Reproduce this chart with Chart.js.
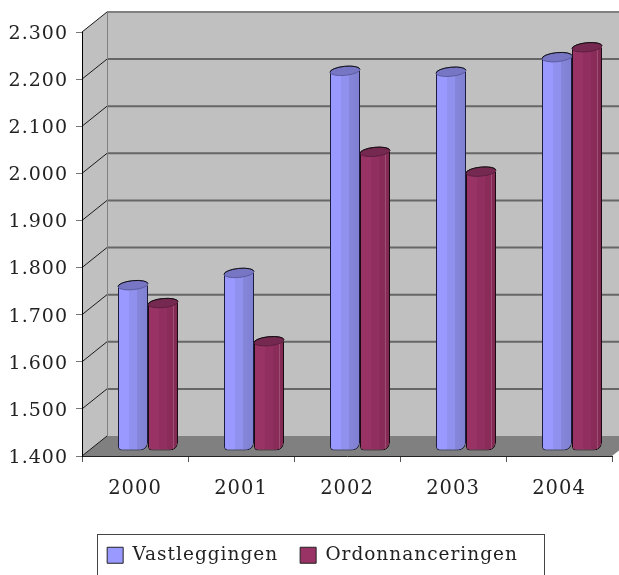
<!DOCTYPE html>
<html>
<head>
<meta charset="utf-8">
<title>Vastleggingen en ordonnanceringen</title>
<script src="https://cdn.jsdelivr.net/npm/chart.js@4/dist/chart.umd.js"></script>
<style>
  html, body { margin: 0; padding: 0; background: #fff; }
  canvas { display: block; }
</style>
</head>
<body>
<canvas id="chart" width="619" height="575"></canvas>
<script>
const years = ['2000', '2001', '2002', '2003', '2004'];
const vastleggingen = [1752, 1778, 2207, 2205, 2236];
const ordonnanceringen = [1714, 1633, 2035, 1993, 2257];
const yTickLabels = ['1.400', '1.500', '1.600', '1.700', '1.800', '1.900', '2.000', '2.100', '2.200', '2.300'];

const SERIF = '"DejaVu Serif", serif';
// pseudo 3D: depth of the box and how far the bars stand inside it
const depthX = 25, depthY = -20;
const barShiftX = 13, barShiftY = -5;

function gradientFor(side, stops) {
    return function(ctx) {
        const c = ctx.chart;
        if (!c.chartArea || ctx.dataIndex === undefined) return stops[0][1];
        const centre = c.scales.x.getPixelForValue(ctx.dataIndex);
        const x0 = side === 0 ? centre - 30 : centre;
        const g = c.ctx.createLinearGradient(x0, 0, x0 + 30, 0);
        stops.forEach(s => g.addColorStop(s[0], s[1]));
        return g;
    };
}

const blueStops = [[0, '#9999ff'], [0.35, '#9999ff'], [0.37, '#9090ee'], [0.62, '#9090ee'], [0.64, '#8585da'], [1, '#8080d2']];
const maroonStops = [[0, '#993366'], [0.35, '#993366'], [0.37, '#922f61'], [0.62, '#922f61'], [0.64, '#8a2c5a'], [0.82, '#8a2c5a'], [0.84, '#a8607f'], [0.87, '#862a56'], [1, '#7e2750']];
const capColors = ['#7676c4', '#752850'];
const capEdges = ['#5c5ca0', '#5e1f40'];
const swatchColors = ['#9999ff', '#993366'];

const box3d = {
    id: 'box3d',
    beforeLayout(chart) { chart.ctx.letterSpacing = '1px'; },
    beforeDraw(chart) {
        const c = chart.ctx, a = chart.chartArea, y = chart.scales.y;
        c.letterSpacing = '1px';
        c.save();
        // back wall and left wall
        c.fillStyle = '#c0c0c0';
        c.fillRect(a.left + depthX, a.top + depthY, a.right - a.left, a.bottom - a.top);
        c.beginPath();
        c.moveTo(a.left, a.top);
        c.lineTo(a.left + depthX, a.top + depthY);
        c.lineTo(a.left + depthX, a.bottom + depthY);
        c.lineTo(a.left, a.bottom);
        c.closePath();
        c.fill();
        // floor
        c.fillStyle = '#808080';
        c.beginPath();
        c.moveTo(a.left, a.bottom);
        c.lineTo(a.left + depthX, a.bottom + depthY);
        c.lineTo(a.right + depthX, a.bottom + depthY);
        c.lineTo(a.right, a.bottom);
        c.closePath();
        c.fill();
        // grid lines on both walls
        yTickLabels.forEach((_, i) => {
            const v = 1400 + i * 100, py = y.getPixelForValue(v);
            c.strokeStyle = '#1a1a1a';
            c.lineWidth = 1;
            c.beginPath();
            c.moveTo(a.left, py);
            c.lineTo(a.left + depthX, py + depthY);
            c.stroke();
            if (i > 0) {
                c.strokeStyle = i === yTickLabels.length - 1 ? '#808080' : '#666';
                c.lineWidth = 2;
                c.beginPath();
                c.moveTo(a.left + depthX, py + depthY);
                c.lineTo(a.right + depthX, py + depthY);
                c.stroke();
            }
        });
        c.strokeStyle = '#808080';
        c.lineWidth = 1;
        c.beginPath();
        c.moveTo(a.left + depthX + 0.5, a.top + depthY);
        c.lineTo(a.left + depthX + 0.5, a.bottom + depthY);
        c.stroke();
        c.restore();
    },
    beforeDatasetDraw(chart) {
        chart.ctx.save();
        chart.ctx.translate(barShiftX, barShiftY);
    },
    afterDatasetDraw(chart, args) {
        // cylinder tops, same translation as the bars
        const c = chart.ctx;
        args.meta.data.forEach(bar => {
            c.beginPath();
            c.ellipse(bar.x, bar.y, 15, 4.5, -0.1, 0, Math.PI * 2);
            c.fillStyle = capColors[args.index];
            c.fill();
            c.lineWidth = 1;
            c.strokeStyle = capEdges[args.index];
            c.stroke();
            c.beginPath();
            c.ellipse(bar.x, bar.y, 15, 4.5, -0.1, Math.PI, Math.PI * 2);
            c.strokeStyle = '#111';
            c.stroke();
        });
        c.restore();
    },
    afterLayout(chart) {
        const lg = chart.legend;
        lg.left += 6.5; lg.right += 6.5;
        const shift = 524 - lg.top;
        lg.top += shift; lg.bottom += shift;
    },
    afterDraw(chart) {
        const c = chart.ctx;
        c.save();
        c.strokeStyle = '#444';
        c.lineWidth = 1;
        c.strokeRect(97.5, 534.5, 447, 50);
        c.restore();
    }
};

new Chart(document.getElementById('chart'), {
    type: 'bar',
    data: {
        labels: years,
        datasets: [
            {
                label: 'Vastleggingen',
                data: vastleggingen,
                backgroundColor: gradientFor(0, blueStops),
                borderColor: '#1c1c40',
                borderWidth: 1,
                borderSkipped: false,
                borderRadius: { topLeft: 0, topRight: 0, bottomLeft: 4, bottomRight: 8 },
                base: 1400,
                clip: false
            },
            {
                label: 'Ordonnanceringen',
                data: ordonnanceringen,
                backgroundColor: gradientFor(1, maroonStops),
                borderColor: '#1a0a12',
                borderWidth: 1,
                borderSkipped: false,
                borderRadius: { topLeft: 0, topRight: 0, bottomLeft: 4, bottomRight: 8 },
                base: 1400,
                clip: false
            }
        ]
    },
    options: {
        responsive: false,
        animation: false,
        layout: { padding: { top: 32, right: 7, left: 0, bottom: 0 } },
        datasets: { bar: { categoryPercentage: 0.566, barPercentage: 1 } },
        scales: {
            x: {
                offset: true,
                grid: { drawOnChartArea: false, tickLength: 6, color: '#555', offset: true },
                border: { color: '#222', width: 1 },
                ticks: { color: '#222', font: { family: SERIF, size: 19.5 }, padding: 15, maxRotation: 0 },
                afterFit(scale) { scale.height = 575 - 456 - scale.chart.legend.height; }
            },
            y: {
                min: 1400,
                max: 2300,
                afterFit(scale) { scale.width = 82; },
                grid: { drawOnChartArea: false, tickLength: 6, color: '#777' },
                border: { color: '#000', width: 1 },
                ticks: {
                    stepSize: 100,
                    color: '#222',
                    font: { family: SERIF, size: 19 },
                    padding: 8,
                    labelOffset: 2,
                    callback: v => yTickLabels[Math.round((v - 1400) / 100)]
                }
            }
        },
        plugins: {
            tooltip: { enabled: false },
            legend: {
                position: 'bottom',
                labels: {
                    color: '#222',
                    font: { family: SERIF, size: 18.5 },
                    boxWidth: 16,
                    boxHeight: 16,
                    padding: 22,
                    generateLabels(chart) {
                        return Chart.defaults.plugins.legend.labels.generateLabels(chart).map((item, i) => {
                            item.fillStyle = swatchColors[i];
                            item.strokeStyle = '#222';
                            item.lineWidth = 1;
                            return item;
                        });
                    }
                }
            }
        }
    },
    plugins: [box3d]
});
</script>
</body>
</html>
